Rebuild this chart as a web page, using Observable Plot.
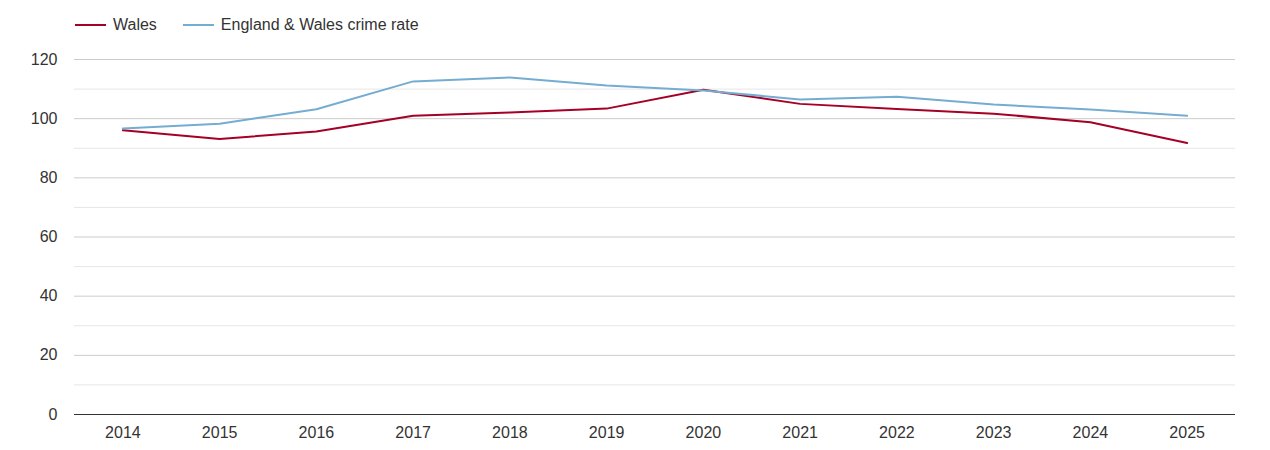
<!DOCTYPE html>
<html>
<head>
<meta charset="utf-8">
<script src="https://cdn.jsdelivr.net/npm/d3@7"></script>
<script src="https://cdn.jsdelivr.net/npm/@observablehq/plot@0.6"></script>
<style>
  html, body { margin: 0; padding: 0; background: #fff; }
  body { width: 1270px; height: 450px; overflow: hidden; font-family: "Liberation Sans", Arial, sans-serif; }
  #legend { height: 45px; display: flex; align-items: center; padding-left: 75px; box-sizing: border-box; padding-top: 5px; font-size: 16px; color: #333; }
  .item { display: flex; align-items: center; margin-right: 26px; }
  .sw { width: 31px; height: 2px; margin-right: 7px; }
  #chart svg text { font-size: 16px !important; font-family: "Liberation Sans", Arial, sans-serif !important; fill: #333; }
</style>
</head>
<body>
<div id="legend"></div>
<div id="chart"></div>
<script>
const years = ["2014","2015","2016","2017","2018","2019","2020","2021","2022","2023","2024","2025"];
const wales = [96.1, 93.1, 95.7, 101.0, 102.1, 103.4, 109.8, 105.0, 103.3, 101.7, 98.8, 91.8];
const englandWales = [96.7, 98.3, 103.2, 112.6, 113.9, 111.2, 109.5, 106.5, 107.4, 104.8, 103.1, 101.0];
const seriesNames = ["Wales", "England & Wales crime rate"];
const seriesColors = ["#a50026", "#74add1"];
const majorTicks = [0, 20, 40, 60, 80, 100, 120];
const minorTicks = [10, 30, 50, 70, 90, 110];

const legend = document.getElementById("legend");
seriesNames.forEach((n, i) => {
  const it = document.createElement("div");
  it.className = "item";
  it.innerHTML = `<div class="sw" style="background:${seriesColors[i]}"></div><span>${n}</span>`;
  legend.appendChild(it);
});

const data = [];
years.forEach((y, i) => {
  data.push({year: y, value: wales[i], series: seriesNames[0]});
  data.push({year: y, value: englandWales[i], series: seriesNames[1]});
});

const chart = Plot.plot({
  width: 1270,
  height: 405,
  marginLeft: 74,
  marginRight: 35,
  marginTop: 14,
  marginBottom: 36,
  style: {fontFamily: "Liberation Sans, Arial, sans-serif", fontSize: "16px", color: "#333", background: "#fff"},
  x: {type: "point", domain: years, padding: 0.5, round: false, label: null},
  y: {domain: [0, 120], label: null},
  color: {domain: seriesNames, range: seriesColors},
  marks: [
    Plot.ruleY(minorTicks, {stroke: "#e6e6e6", strokeWidth: 1}),
    Plot.ruleY(majorTicks.filter(d => d > 0), {stroke: "#cccccc", strokeWidth: 1}),
    Plot.ruleY([0], {stroke: "#333", strokeWidth: 1}),
    Plot.axisY({ticks: majorTicks, tickSize: 0, tickPadding: 17, label: null}),
    Plot.axisX({tickSize: 0, tickPadding: 12, label: null}),
    Plot.line(data.filter(d => d.series === seriesNames[0]), {x: "year", y: "value", stroke: "series", strokeWidth: 2}),
    Plot.line(data.filter(d => d.series === seriesNames[1]), {x: "year", y: "value", stroke: "series", strokeWidth: 2})
  ]
});
document.getElementById("chart").appendChild(chart);
</script>
</body>
</html>
